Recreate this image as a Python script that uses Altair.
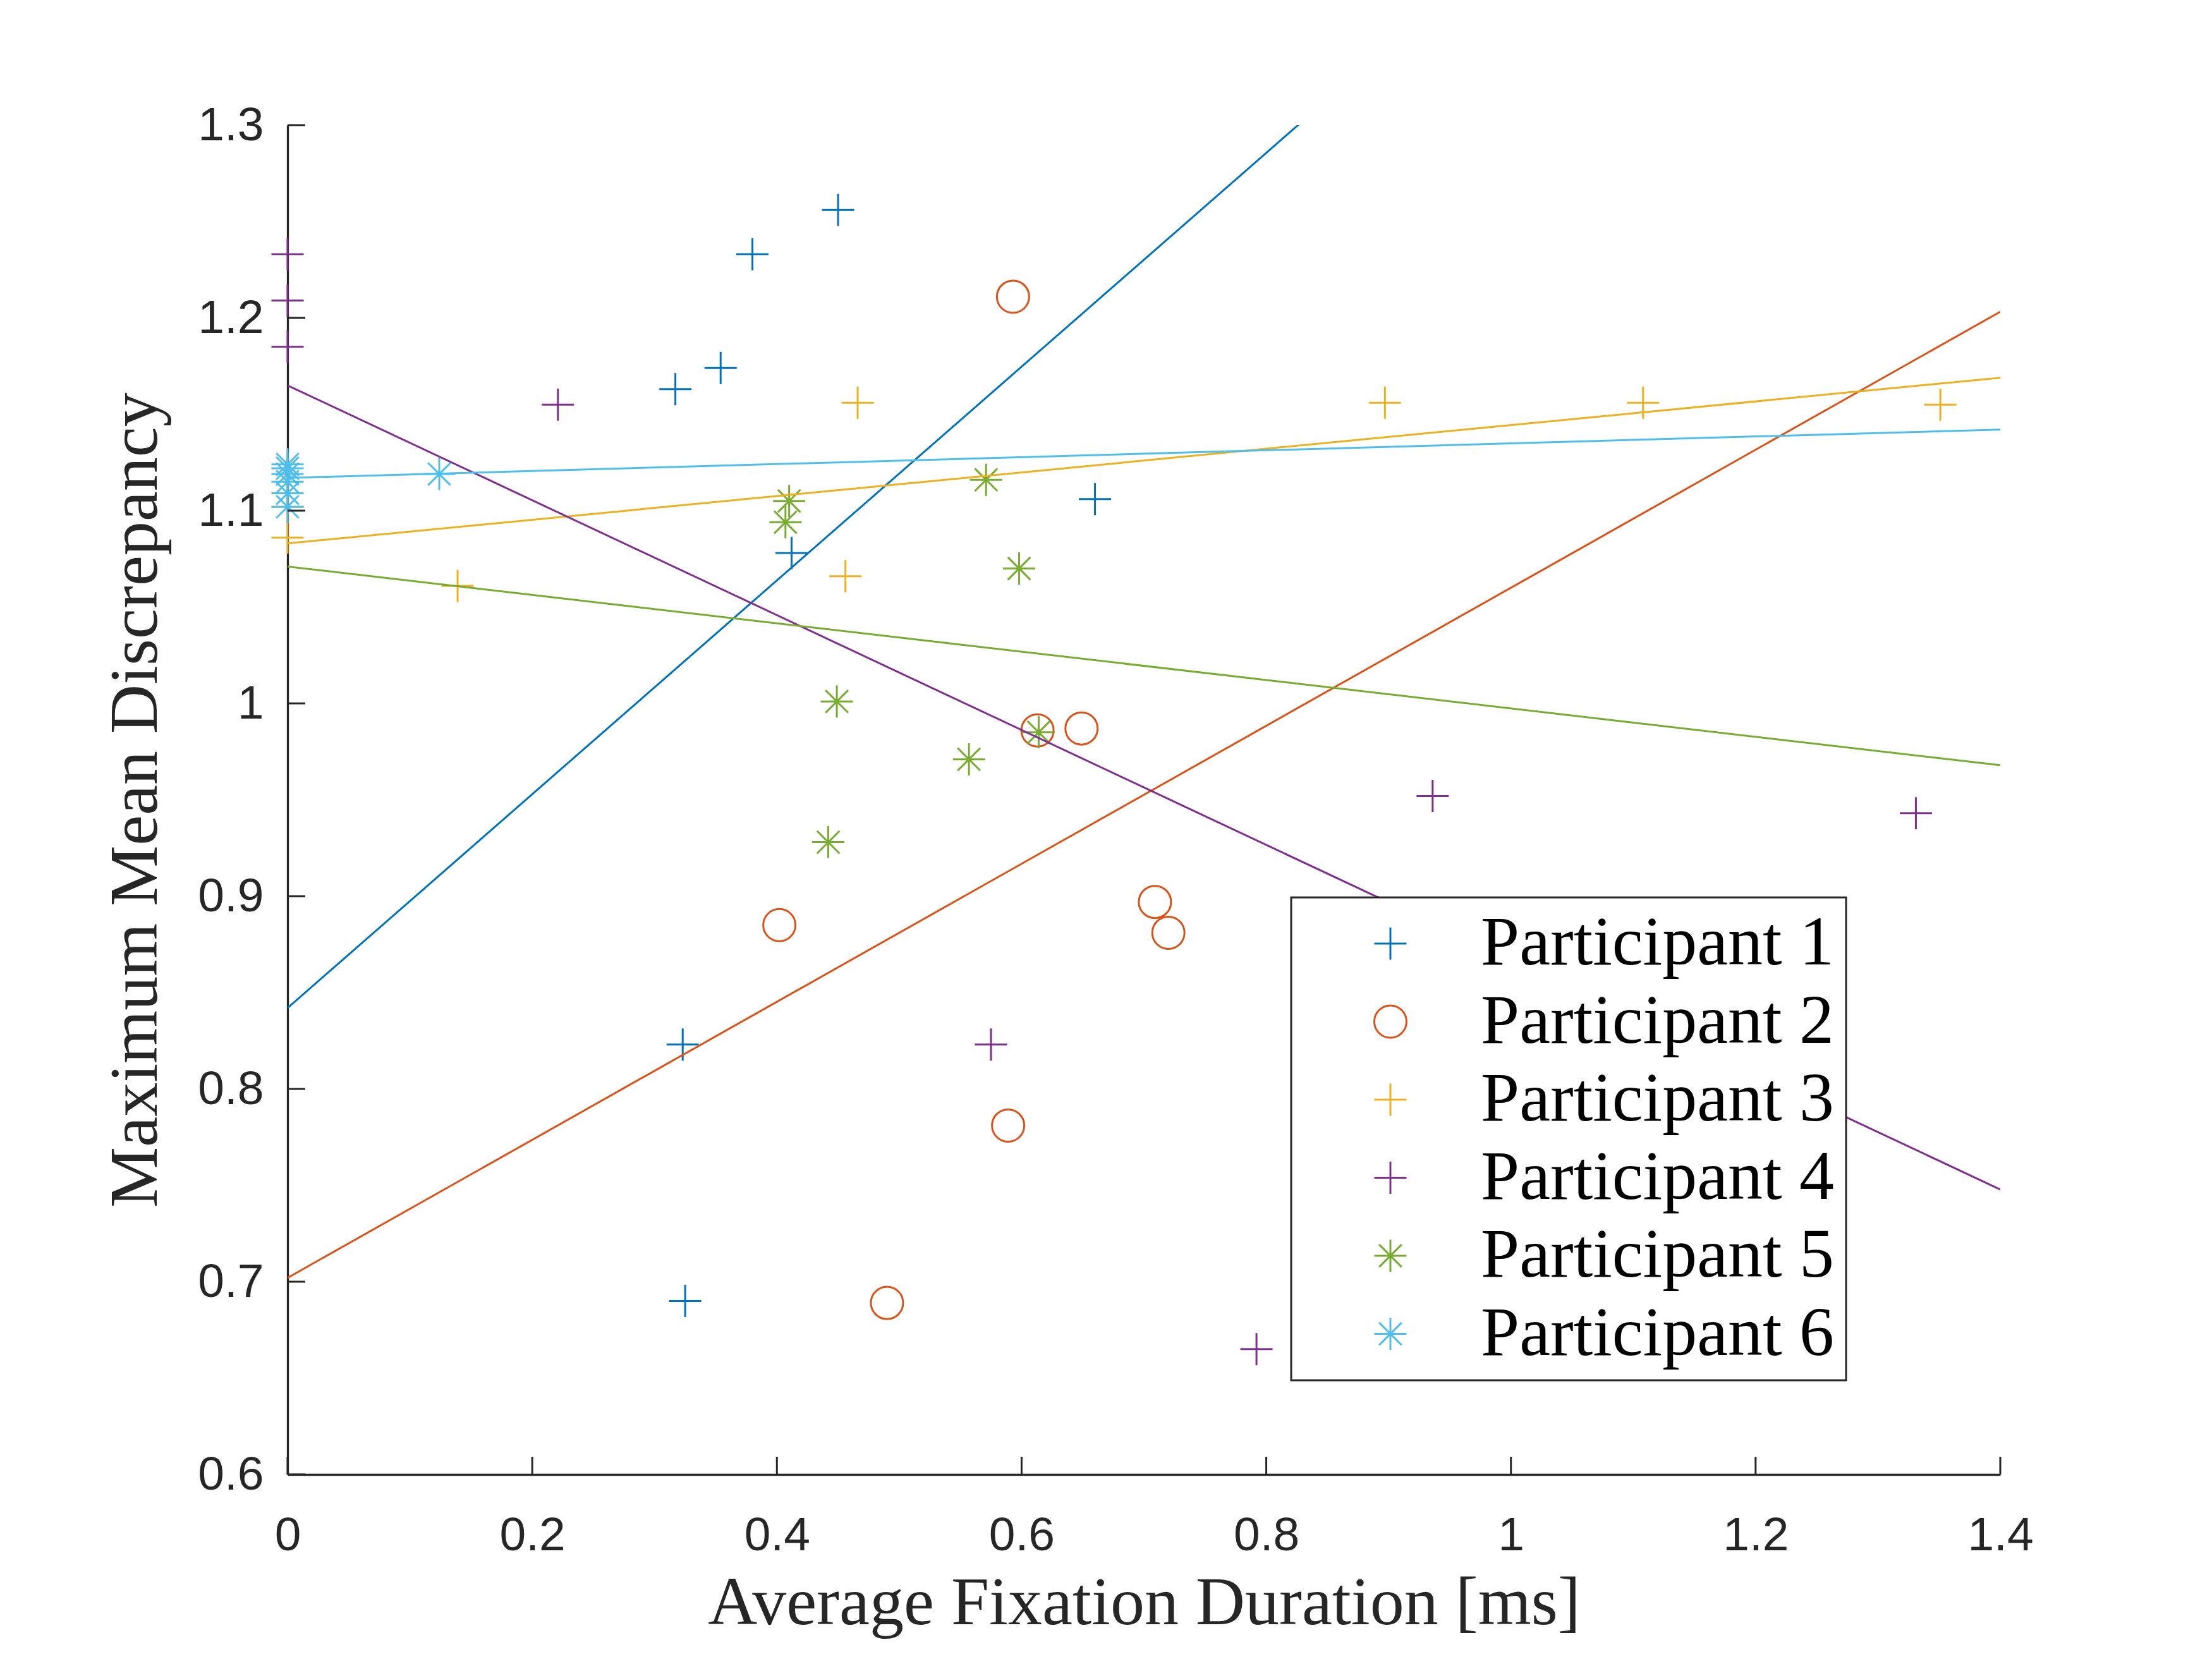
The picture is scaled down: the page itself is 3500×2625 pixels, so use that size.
import altair as alt
import pandas as pd

# ---------------- data ----------------
participants = ["Participant 1", "Participant 2", "Participant 3",
                "Participant 4", "Participant 5", "Participant 6"]

p1_x = [0.450, 0.380, 0.354, 0.317, 0.660, 0.412, 0.323, 0.325]
p1_y = [1.256, 1.233, 1.174, 1.163, 1.106, 1.078, 0.823, 0.690]

p2_x = [0.593, 0.402, 0.613, 0.649, 0.709, 0.720, 0.589, 0.490]
p2_y = [1.211, 0.885, 0.986, 0.987, 0.897, 0.881, 0.781, 0.689]

p3_x = [0.466, 0.897, 1.108, 1.351, 0.456, 0.139, 0.0, 0.0]
p3_y = [1.156, 1.156, 1.156, 1.155, 1.066, 1.061, 1.102, 1.086]

p4_x = [0.0, 0.0, 0.0, 0.221, 0.936, 1.331, 0.575, 0.792]
p4_y = [1.233, 1.209, 1.185, 1.155, 0.952, 0.943, 0.823, 0.665]

p5_x = [0.571, 0.410, 0.407, 0.598, 0.449, 0.614, 0.557, 0.442]
p5_y = [1.116, 1.105, 1.094, 1.070, 1.001, 0.985, 0.971, 0.928]

p6_x = [0.124, 0.0, 0.0, 0.0, 0.0, 0.0, 0.0]
p6_y = [1.119, 1.124, 1.122, 1.119, 1.115, 1.109, 1.102]

# linear fits (intercept, slope)
fit_intercept = [0.842, 0.702, 1.083, 1.165, 1.071, 1.117]
fit_slope = [0.5545, 0.358, 0.0614, -0.298, -0.0736, 0.0179]

colors = ["#0072BD", "#D95319", "#EDB120", "#7E2F8E", "#77AC30", "#4DBEEE"]

PLUS = "M-1,0L1,0M0,-1L0,1"
ASTER = "M-1,0L1,0M0,-1L0,1M-0.7,-0.7L0.7,0.7M-0.7,0.7L0.7,-0.7"
shapes = [PLUS, "circle", PLUS, PLUS, ASTER, ASTER]

x_ticks = [0, 0.2, 0.4, 0.6, 0.8, 1.0, 1.2, 1.4]
y_ticks = [0.6, 0.7, 0.8, 0.9, 1.0, 1.1, 1.2, 1.3]
x_domain = [0, 1.4]
y_domain = [0.6, 1.3]

# ---------------- tables ----------------
rows = []
for name, xs, ys in zip(participants, [p1_x, p2_x, p3_x, p4_x, p5_x, p6_x],
                        [p1_y, p2_y, p3_y, p4_y, p5_y, p6_y]):
    for xv, yv in zip(xs, ys):
        rows.append({"participant": name, "x": xv, "y": yv})
pts = pd.DataFrame(rows)

xt = pd.DataFrame({"t": x_ticks})
yt = pd.DataFrame({"t": y_ticks})

W, H = 2710, 2135
AX = "#262626"
TICK_LEN = 28

xscale = alt.Scale(domain=x_domain, nice=False, zero=False)
yscale = alt.Scale(domain=y_domain, nice=False, zero=False)

x_axis = alt.Axis(values=x_ticks, format="~g", title="Average Fixation Duration [ms]",
                  grid=False, ticks=False, domainColor=AX, domainWidth=3.3,
                  labelFont="Liberation Sans", labelFontSize=75, labelColor=AX,
                  labelPadding=60, labelFlush=False,
                  titleFont="Liberation Serif", titleFontSize=108, titleColor=AX,
                  titleFontWeight="normal", titleBaseline="alphabetic", titleY=236)
y_axis = alt.Axis(values=y_ticks, format="~g", title="Maximum Mean Discrepancy",
                  grid=False, ticks=False, domainColor=AX, domainWidth=3.3,
                  labelFont="Liberation Sans", labelFontSize=75, labelColor=AX,
                  labelPadding=38, labelFlush=False,
                  titleFont="Liberation Serif", titleFontSize=108, titleColor=AX,
                  titleFontWeight="normal", titleBaseline="alphabetic", titleX=-208)

points = alt.Chart(pts).mark_point(filled=False, strokeWidth=3, size=2600, opacity=1).encode(
    x=alt.X("x:Q", scale=xscale, axis=x_axis),
    y=alt.Y("y:Q", scale=yscale, axis=y_axis),
    color=alt.Color("participant:N", scale=alt.Scale(domain=participants, range=colors),
                    legend=alt.Legend(title=None, orient="none", legendX=1588, legendY=1222)),
    shape=alt.Shape("participant:N", scale=alt.Scale(domain=participants, range=shapes),
                    legend=alt.Legend(title=None, orient="none", legendX=1588, legendY=1222)),
)

line_layers = []
for name, a, b, c in zip(participants, fit_intercept, fit_slope, colors):
    df = pd.DataFrame({"x": x_domain, "y": [a + b * xv for xv in x_domain]})
    line_layers.append(
        alt.Chart(df).mark_line(clip=True, strokeWidth=3, color=c).encode(
            x=alt.X("x:Q", scale=xscale),
            y=alt.Y("y:Q", scale=yscale),
        )
    )

xticks = alt.Chart(xt).mark_rule(color=AX, strokeWidth=3).encode(
    x=alt.X("t:Q", scale=xscale), y=alt.value(H), y2=alt.value(H - TICK_LEN))
yticks = alt.Chart(yt).mark_rule(color=AX, strokeWidth=3).encode(
    y=alt.Y("t:Q", scale=yscale), x=alt.value(0), x2=alt.value(TICK_LEN))

chart = alt.layer(points, *line_layers, xticks, yticks).properties(
    width=W, height=H,
    autosize=alt.AutoSizeParams(type="none"),
    padding={"left": 447, "top": 190, "right": 300, "bottom": 280},
    background="white",
).configure_view(stroke=None).configure_legend(
    labelFont="Liberation Serif", labelFontSize=110, labelColor="black",
    labelBaseline="middle",
    symbolSize=2600, symbolStrokeWidth=3, symbolFillColor="transparent",
    padding=18, rowPadding=13.5, symbolOffset=84, labelOffset=88,
    strokeColor=AX, strokeWidth=3, fillColor="white", cornerRadius=0,
    labelLimit=2000, zindex=1,
)

chart.save("out.html", embed_options={"renderer": "svg", "actions": False})
